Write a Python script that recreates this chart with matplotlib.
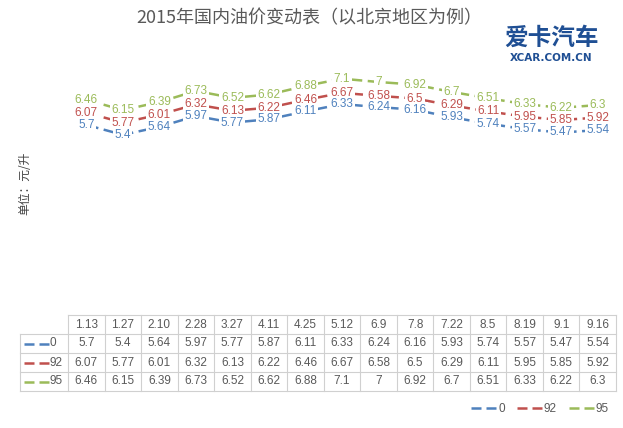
import matplotlib.pyplot as plt

plt.rcParams['font.family'] = ['Liberation Sans', 'Noto Sans CJK SC', 'DejaVu Sans']

# 调价日期
dates = ["1.13", "1.27", "2.10", "2.28", "3.27", "4.11", "4.25", "5.12",
         "6.9", "7.8", "7.22", "8.5", "8.19", "9.1", "9.16"]
oil_0 = [5.7, 5.4, 5.64, 5.97, 5.77, 5.87, 6.11, 6.33, 6.24, 6.16, 5.93, 5.74, 5.57, 5.47, 5.54]
oil_92 = [6.07, 5.77, 6.01, 6.32, 6.13, 6.22, 6.46, 6.67, 6.58, 6.5, 6.29, 6.11, 5.95, 5.85, 5.92]
oil_95 = [6.46, 6.15, 6.39, 6.73, 6.52, 6.62, 6.88, 7.1, 7, 6.92, 6.7, 6.51, 6.33, 6.22, 6.3]
names = ["0", "92", "95"]
colors = ["#4F81BD", "#C0504D", "#9BBB59"]
series = [oil_0, oil_92, oil_95]

W, H = 623, 428
fig = plt.figure(figsize=(W / 100, H / 100), dpi=100)

# 背景层, 像素坐标
bg = fig.add_axes([0, 0, 1, 1])
bg.set_xlim(0, W)
bg.set_ylim(H, 0)
bg.axis('off')

x0, x1 = 68, 616
ybot, ytop = 313, 49
ax = fig.add_axes([x0 / W, (H - ybot) / H, (x1 - x0) / W, (ybot - ytop) / H])
ax.set_xlim(-0.5, len(dates) - 0.5)
ax.set_ylim(0, 8)
ax.axis('off')

dash = (0, (4, 2))
xs = list(range(len(dates)))
handles = []
for vals, name, c in zip(series, names, colors):
    ln, = ax.plot(xs, vals, color=c, lw=1.8, linestyle=(0, (5, 2.2)), label=name)
    handles.append(ln)
    for x, v in zip(xs, vals):
        # 白底挡住线, 文字另画一层
        ax.text(x, v, str(v), color='white', fontsize=8.5, ha='center', va='center',
                zorder=3, bbox=dict(facecolor='white', edgecolor='none', pad=1.0))
        ax.text(x, v, str(v), color=c, fontsize=8.5, ha='center', va='center', zorder=4)

# 标题
fig.text(309 / W, 1 - 18 / H, "2015年国内油价变动表（以北京地区为例）",
         fontsize=13, color='#595959', ha='center', va='center',
         family=['Noto Sans CJK SC', 'DejaVu Sans'])
fig.text(25 / W, 1 - 183 / H, "单位：元/升", fontsize=8.5, color='#404040',
         rotation=90, ha='center', va='center', family=['Noto Sans CJK SC', 'DejaVu Sans'])

# logo
fig.text(551 / W, 1 - 38 / H, "爱卡汽车", fontsize=17, weight='heavy', color='#1f4f94',
         ha='center', va='center', family=['Noto Sans CJK SC', 'DejaVu Sans'])
fig.text(551 / W, 1 - 58 / H, "XCAR.COM.CN", fontsize=7.5, weight='bold', color='#1f4f94',
         ha='center', va='center', family=['DejaVu Sans'])

# 数据表
grid = '#d0d0d0'
rows = [315, 334, 353, 372, 391]
cw = (x1 - x0) / len(dates)
bg.plot([x0, x1], [rows[0], rows[0]], color=grid, lw=0.8)
for r in rows[1:]:
    bg.plot([20, x1], [r, r], color=grid, lw=0.8)
bg.plot([20, 20], [rows[1], rows[-1]], color=grid, lw=0.8)
for i in range(len(dates) + 1):
    bg.plot([x0 + i * cw] * 2, [rows[0], rows[-1]], color=grid, lw=0.8)

tc = '#595959'
for i, d in enumerate(dates):
    cx = x0 + (i + 0.5) * cw
    bg.text(cx, (rows[0] + rows[1]) / 2, d, fontsize=8.5, color=tc, ha='center', va='center')
    for k, vals in enumerate(series):
        bg.text(cx, (rows[k + 1] + rows[k + 2]) / 2, str(vals[i]), fontsize=8.5,
                color=tc, ha='center', va='center')

for k, (name, c) in enumerate(zip(names, colors)):
    yc = (rows[k + 1] + rows[k + 2]) / 2
    bg.plot([24, 49], [yc, yc], color=c, lw=1.8, linestyle=dash)
    bg.text(50, yc, name, fontsize=8.5, color=tc, ha='left', va='center')

leg_handles = [plt.Line2D([], [], color=c, lw=1.8, linestyle=dash) for c in colors]
leg = fig.legend(handles=leg_handles, labels=names, loc='center',
                 bbox_to_anchor=(540 / W, 1 - 409 / H),
                 ncol=3, frameon=False, fontsize=8.5, handlelength=2.2,
                 handletextpad=0.1, columnspacing=1.0, labelcolor=tc)

fig.savefig("out.png", dpi=100)
